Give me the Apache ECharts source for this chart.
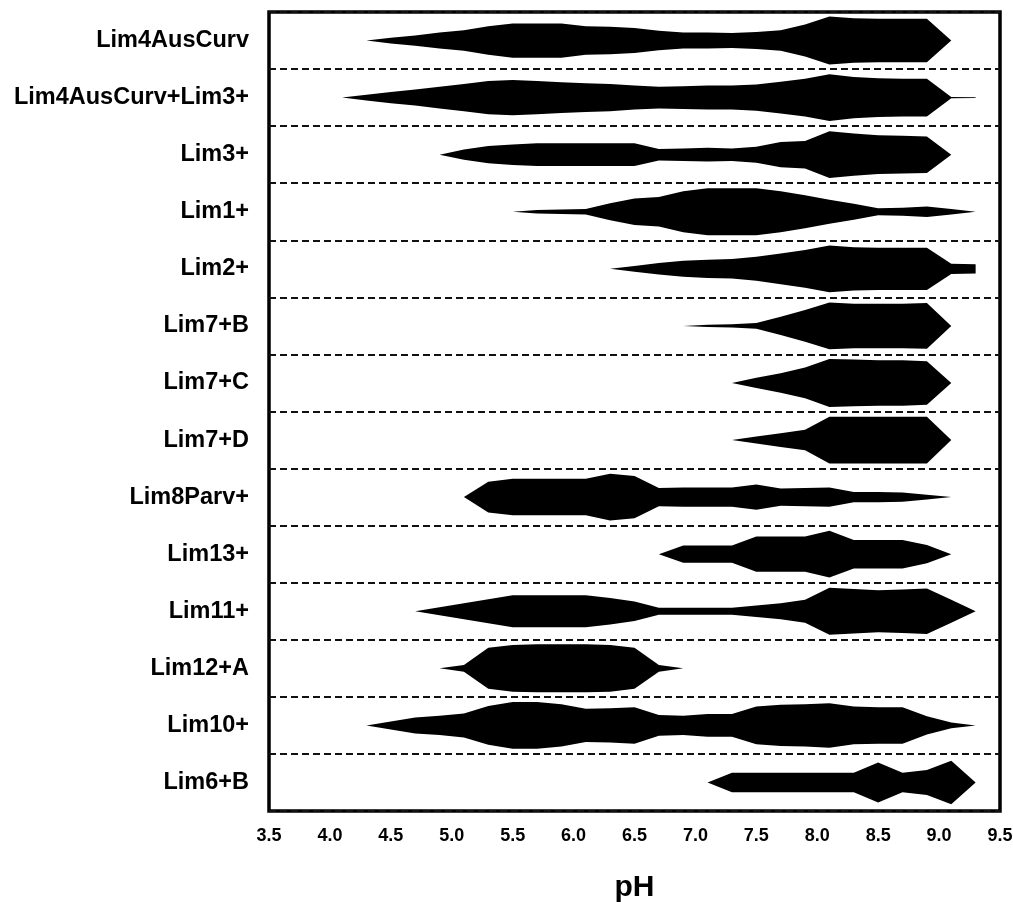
<!DOCTYPE html>
<html>
<head>
<meta charset="utf-8">
<script src="https://cdn.jsdelivr.net/npm/echarts@6/dist/echarts.min.js"></script>
<style>
html, body { margin: 0; padding: 0; background: #fff; }
#main { width: 1013px; height: 902px; }
</style>
</head>
<body>
<div id="main"></div>
<script>
var categories = ['Lim4AusCurv', 'Lim4AusCurv+Lim3+', 'Lim3+', 'Lim1+', 'Lim2+', 'Lim7+B', 'Lim7+C',
    'Lim7+D', 'Lim8Parv+', 'Lim13+', 'Lim11+', 'Lim12+A', 'Lim10+', 'Lim6+B'];

// pH points the violins are sampled at
var phGrid = [4.1, 4.3, 4.5, 4.7, 4.9, 5.1, 5.3, 5.5, 5.7, 5.9, 6.1, 6.3, 6.5, 6.7, 6.9,
    7.1, 7.3, 7.5, 7.7, 7.9, 8.1, 8.3, 8.5, 8.7, 8.9, 9.1, 9.3];
var xTicks = [3.5, 4.0, 4.5, 5.0, 5.5, 6.0, 6.5, 7.0, 7.5, 8.0, 8.5, 9.0, 9.5];

// first pH of each violin
var phStart = [4.3, 4.1, 4.9, 5.5, 6.3, 6.9, 7.3, 7.3, 5.1, 6.7, 4.7, 4.9, 4.3, 7.1];

// half width (density) per pH point, % of row height
var lim4AusCurv = [0, 5, 9, 14, 18, 25, 30, 30, 30, 25, 24, 22, 17, 14, 14, 13, 15, 18, 28, 42, 39, 38, 38, 38, 0];
var lim4AusCurvLim3 = [0, 5, 10, 14, 19, 24, 29, 31, 29, 27, 25, 24, 21, 19, 20, 21, 21, 23, 28, 33, 41, 36, 34, 33, 33, 1, 0.5];
var lim3 = [0, 9, 15, 18, 20, 20, 20, 20, 20, 10, 11, 12, 11, 14, 22, 24, 41, 37, 34, 33, 32, 0];
var lim1 = [0, 3, 4, 5, 15, 23, 26, 36, 41, 41, 41, 36, 29, 21, 14, 6, 7, 9, 5, 0];
var lim2 = [0, 5, 10, 14, 16, 17, 21, 27, 33, 41, 38, 37, 37, 37, 9, 8];
var lim7B = [0, 2, 3, 5, 16, 28, 41, 39, 39, 39, 40, 0];
var lim7C = [0, 9, 17, 27, 42, 41, 40, 40, 38, 0];
var lim7D = [0, 6, 12, 18, 41, 41, 41, 41, 41, 0];
var lim8Parv = [0, 27, 32, 32, 32, 32, 41, 37, 16, 17, 17, 17, 22, 15, 16, 17, 9, 9, 8, 4, 0];
var lim13 = [0, 15, 15, 15, 31, 31, 31, 41, 25, 25, 25, 16, 0];
var lim11 = [0, 7, 14, 21, 28, 28, 28, 28, 23, 17, 6, 6, 6, 6, 10, 14, 20, 41, 39, 37, 38, 40, 20, 0];
var lim12A = [0, 6, 36, 41, 42, 42, 42, 41, 36, 6, 0];
var lim10 = [0, 7, 14, 17, 21, 34, 41, 41, 37, 29, 30, 32, 18, 17, 20, 20, 33, 36, 37, 39, 33, 32, 32, 16, 5, 0];
var lim6B = [0, 17, 17, 17, 17, 17, 17, 35, 17, 22, 38, 0];

var densities = [lim4AusCurv, lim4AusCurvLim3, lim3, lim1, lim2, lim7B, lim7C, lim7D,
    lim8Parv, lim13, lim11, lim12A, lim10, lim6B];

var font = 'Liberation Sans, Arial, sans-serif';

function renderViolin(params, api) {
    var row = params.dataIndex;
    var dens = densities[row];
    var s = phGrid.indexOf(phStart[row]);
    var band = api.size([0, 1])[1];
    var top = [], bottom = [];
    for (var j = 0; j < dens.length; j++) {
        var p = api.coord([phGrid[s + j], row]);
        var h = dens[j] / 100 * band;
        top.push([p[0], p[1] - h]);
        bottom.unshift([p[0], p[1] + h]);
    }
    return {
        type: 'polygon',
        shape: { points: top.concat(bottom) },
        style: { fill: '#000' }
    };
}

var myChart = echarts.init(document.getElementById('main'));

myChart.setOption({
    animation: false,
    grid: {
        left: 269, right: 13, top: 12, bottom: 91,
        outerBoundsMode: 'none',
        show: true, borderColor: '#000', borderWidth: 3.5
    },
    xAxis: {
        type: 'value',
        min: xTicks[0],
        max: xTicks[xTicks.length - 1],
        interval: 0.5,
        axisLine: { lineStyle: { color: '#000', width: 3.5 } },
        axisTick: { length: 10, lineStyle: { color: '#000', width: 3 } },
        axisLabel: {
            formatter: function (v) { return v.toFixed(1); },
            fontFamily: font, fontWeight: 'bold', fontSize: 18, color: '#000', margin: 16
        },
        splitLine: { show: false },
        name: 'pH',
        nameLocation: 'middle',
        nameGap: 62,
        nameTextStyle: { fontFamily: font, fontWeight: 'bold', fontSize: 30, color: '#000' }
    },
    yAxis: {
        type: 'category',
        data: categories,
        inverse: true,
        axisLine: { show: false },
        axisTick: { show: false },
        axisLabel: {
            interval: 0,
            fontFamily: font, fontWeight: 'bold', fontSize: 23.5, color: '#000', margin: 20
        },
        splitLine: {
            show: true,
            interval: 0,
            lineStyle: { type: [7, 4], color: '#111', width: 1.8 }
        }
    },
    series: [{
        type: 'custom',
        renderItem: renderViolin,
        data: categories.map(function (c, i) { return [phStart[i], i]; })
    }]
});
</script>
</body>
</html>
